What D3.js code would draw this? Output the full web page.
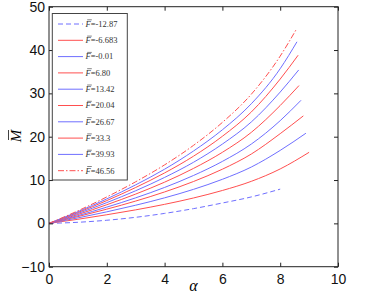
<!DOCTYPE html>
<html><head><meta charset="utf-8">
<script src="https://cdn.jsdelivr.net/npm/d3@7"></script>
<style>body{margin:0;background:#fff}svg{display:block}</style>
</head><body><svg id="c" width="374" height="295"></svg>
<script>
const xTicks = [0, 2, 4, 6, 8, 10];
const yTicks = [-10, 0, 10, 20, 30, 40, 50];
const labels = ["-12.87", "-6.683", "-0.01", "6.80", "13.42", "20.04", "26.67", "33.3", "39.93", "46.56"];
const colors = ["#6f6fff", "#ff4f4f", "#6f6fff", "#ff4f4f", "#6f6fff", "#ff4f4f", "#6f6fff", "#ff4f4f", "#6f6fff", "#ff4f4f"];
const dashes = ["5,3", null, null, null, null, null, null, null, null, "6,2,1.5,2"];
const alphaPts = [0, 1, 2, 3, 4, 5, 6, 7, 8];
const series = [
  [0, 0.25, 0.72, 1.4, 2.3, 3.4, 4.7, 6.1, 7.9],
  [0, 0.94, 1.99, 3.12, 4.39, 5.86, 7.59, 9.7, 12.56],
  [0, 1.26, 2.66, 4.19, 5.89, 7.85, 10.17, 13.0, 16.84],
  [0, 1.56, 3.28, 5.15, 7.25, 9.66, 12.5, 16.0, 20.7],
  [0, 1.78, 3.75, 5.89, 8.29, 11.05, 14.3, 18.3, 23.7],
  [0, 2.04, 4.3, 6.76, 9.51, 12.68, 16.4, 21.0, 27.2],
  [0, 2.28, 4.79, 7.53, 10.6, 14.1, 18.3, 23.4, 30.3],
  [0, 2.5, 5.26, 8.28, 11.64, 15.5, 20.1, 25.7, 33.3],
  [0, 2.69, 5.65, 8.89, 12.5, 16.7, 21.6, 27.6, 35.7],
  [0, 2.9, 6.1, 9.6, 13.5, 18.0, 23.3, 29.8, 38.6]
];
const endAlpha = [null, 9.0, 8.89, 8.8, 8.72, 8.65, 8.64, 8.62, 8.58, 8.56];
const endM = [null, 16.4, 20.8, 24.8, 28.4, 31.8, 35.4, 38.8, 41.9, 44.8];

const svg = d3.select("#c");
const L = 49, R = 338, T = 6.7, B = 266.7;
const x = d3.scaleLinear().domain([0, 10]).range([L, R]);
const y = d3.scaleLinear().domain([-10, 50]).range([B, T]);

// curves
const line = d3.line().x(d => x(d[0])).y(d => y(d[1])).curve(d3.curveMonotoneX);
series.forEach((vals, i) => {
  let pts = alphaPts.map((a, j) => [a, vals[j]]);
  if (endAlpha[i] != null) pts.push([endAlpha[i], endM[i]]);
  svg.append("path").attr("d", line(pts)).attr("fill", "none")
    .attr("stroke", colors[i]).attr("stroke-width", 1)
    .attr("stroke-dasharray", dashes[i]);
});

// frame
svg.append("rect").attr("x", L).attr("y", T).attr("width", R - L).attr("height", B - T)
  .attr("fill", "none").attr("stroke", "#222").attr("stroke-width", 1);

const font = "Liberation Sans, Arial, sans-serif";
const gB = svg.append("g").attr("transform", `translate(0,${B})`)
  .call(d3.axisBottom(x).tickValues(xTicks).tickSize(-4).tickPadding(7).tickFormat(d3.format("d")));
const gT = svg.append("g").attr("transform", `translate(0,${T})`)
  .call(d3.axisTop(x).tickValues(xTicks).tickSize(-4).tickFormat(""));
const gL = svg.append("g").attr("transform", `translate(${L},0)`)
  .call(d3.axisLeft(y).tickValues(yTicks).tickSize(-4).tickPadding(4).tickFormat(d => d < 0 ? "\u2212" + Math.abs(d) : d));
const gR = svg.append("g").attr("transform", `translate(${R},0)`)
  .call(d3.axisRight(y).tickValues(yTicks).tickSize(-4).tickFormat(""));
[gB, gT, gL, gR].forEach(g => {
  g.select(".domain").remove();
  g.selectAll(".tick line").attr("stroke", "#222");
  g.selectAll("text").attr("font-family", font).attr("font-size", 14).attr("fill", "#111");
});

// axis titles
svg.append("text").attr("x", x(5)).attr("y", 291).attr("text-anchor", "middle")
  .attr("font-family", "Liberation Serif, serif").attr("font-style", "italic").attr("font-size", 16)
  .text("\u03b1");
const yl = svg.append("g").attr("transform", "translate(21,136) rotate(-90)");
yl.append("text").attr("x", 0).attr("y", 0).attr("text-anchor", "middle")
  .attr("font-family", "Liberation Serif, serif").attr("font-style", "italic").attr("font-size", 15)
  .text("M");
yl.append("line").attr("x1", -4).attr("x2", 6).attr("y1", -12.5).attr("y2", -12.5)
  .attr("stroke", "#111").attr("stroke-width", 0.8);

// legend
const lg = svg.append("g");
lg.append("rect").attr("x", 52.3).attr("y", 13.5).attr("width", 75).attr("height", 166.5)
  .attr("fill", "#fff").attr("stroke", "#444").attr("stroke-width", 1);
labels.forEach((lab, i) => {
  const yy = 24 + i * 16.3;
  lg.append("line").attr("x1", 58).attr("x2", 83).attr("y1", yy).attr("y2", yy)
    .attr("stroke", colors[i]).attr("stroke-width", 1).attr("stroke-dasharray", dashes[i]);
  const t = lg.append("text").attr("x", 85.5).attr("y", yy + 2.8)
    .attr("font-family", "Liberation Serif, serif").attr("font-size", 8.5).attr("fill", "#333");
  t.append("tspan").attr("font-style", "italic").text("F");
  t.append("tspan").text("=" + lab);
  lg.append("line").attr("x1", 87.2).attr("x2", 91.8).attr("y1", yy - 4.2).attr("y2", yy - 4.2)
    .attr("stroke", "#333").attr("stroke-width", 0.6);
});
</script></body></html>
